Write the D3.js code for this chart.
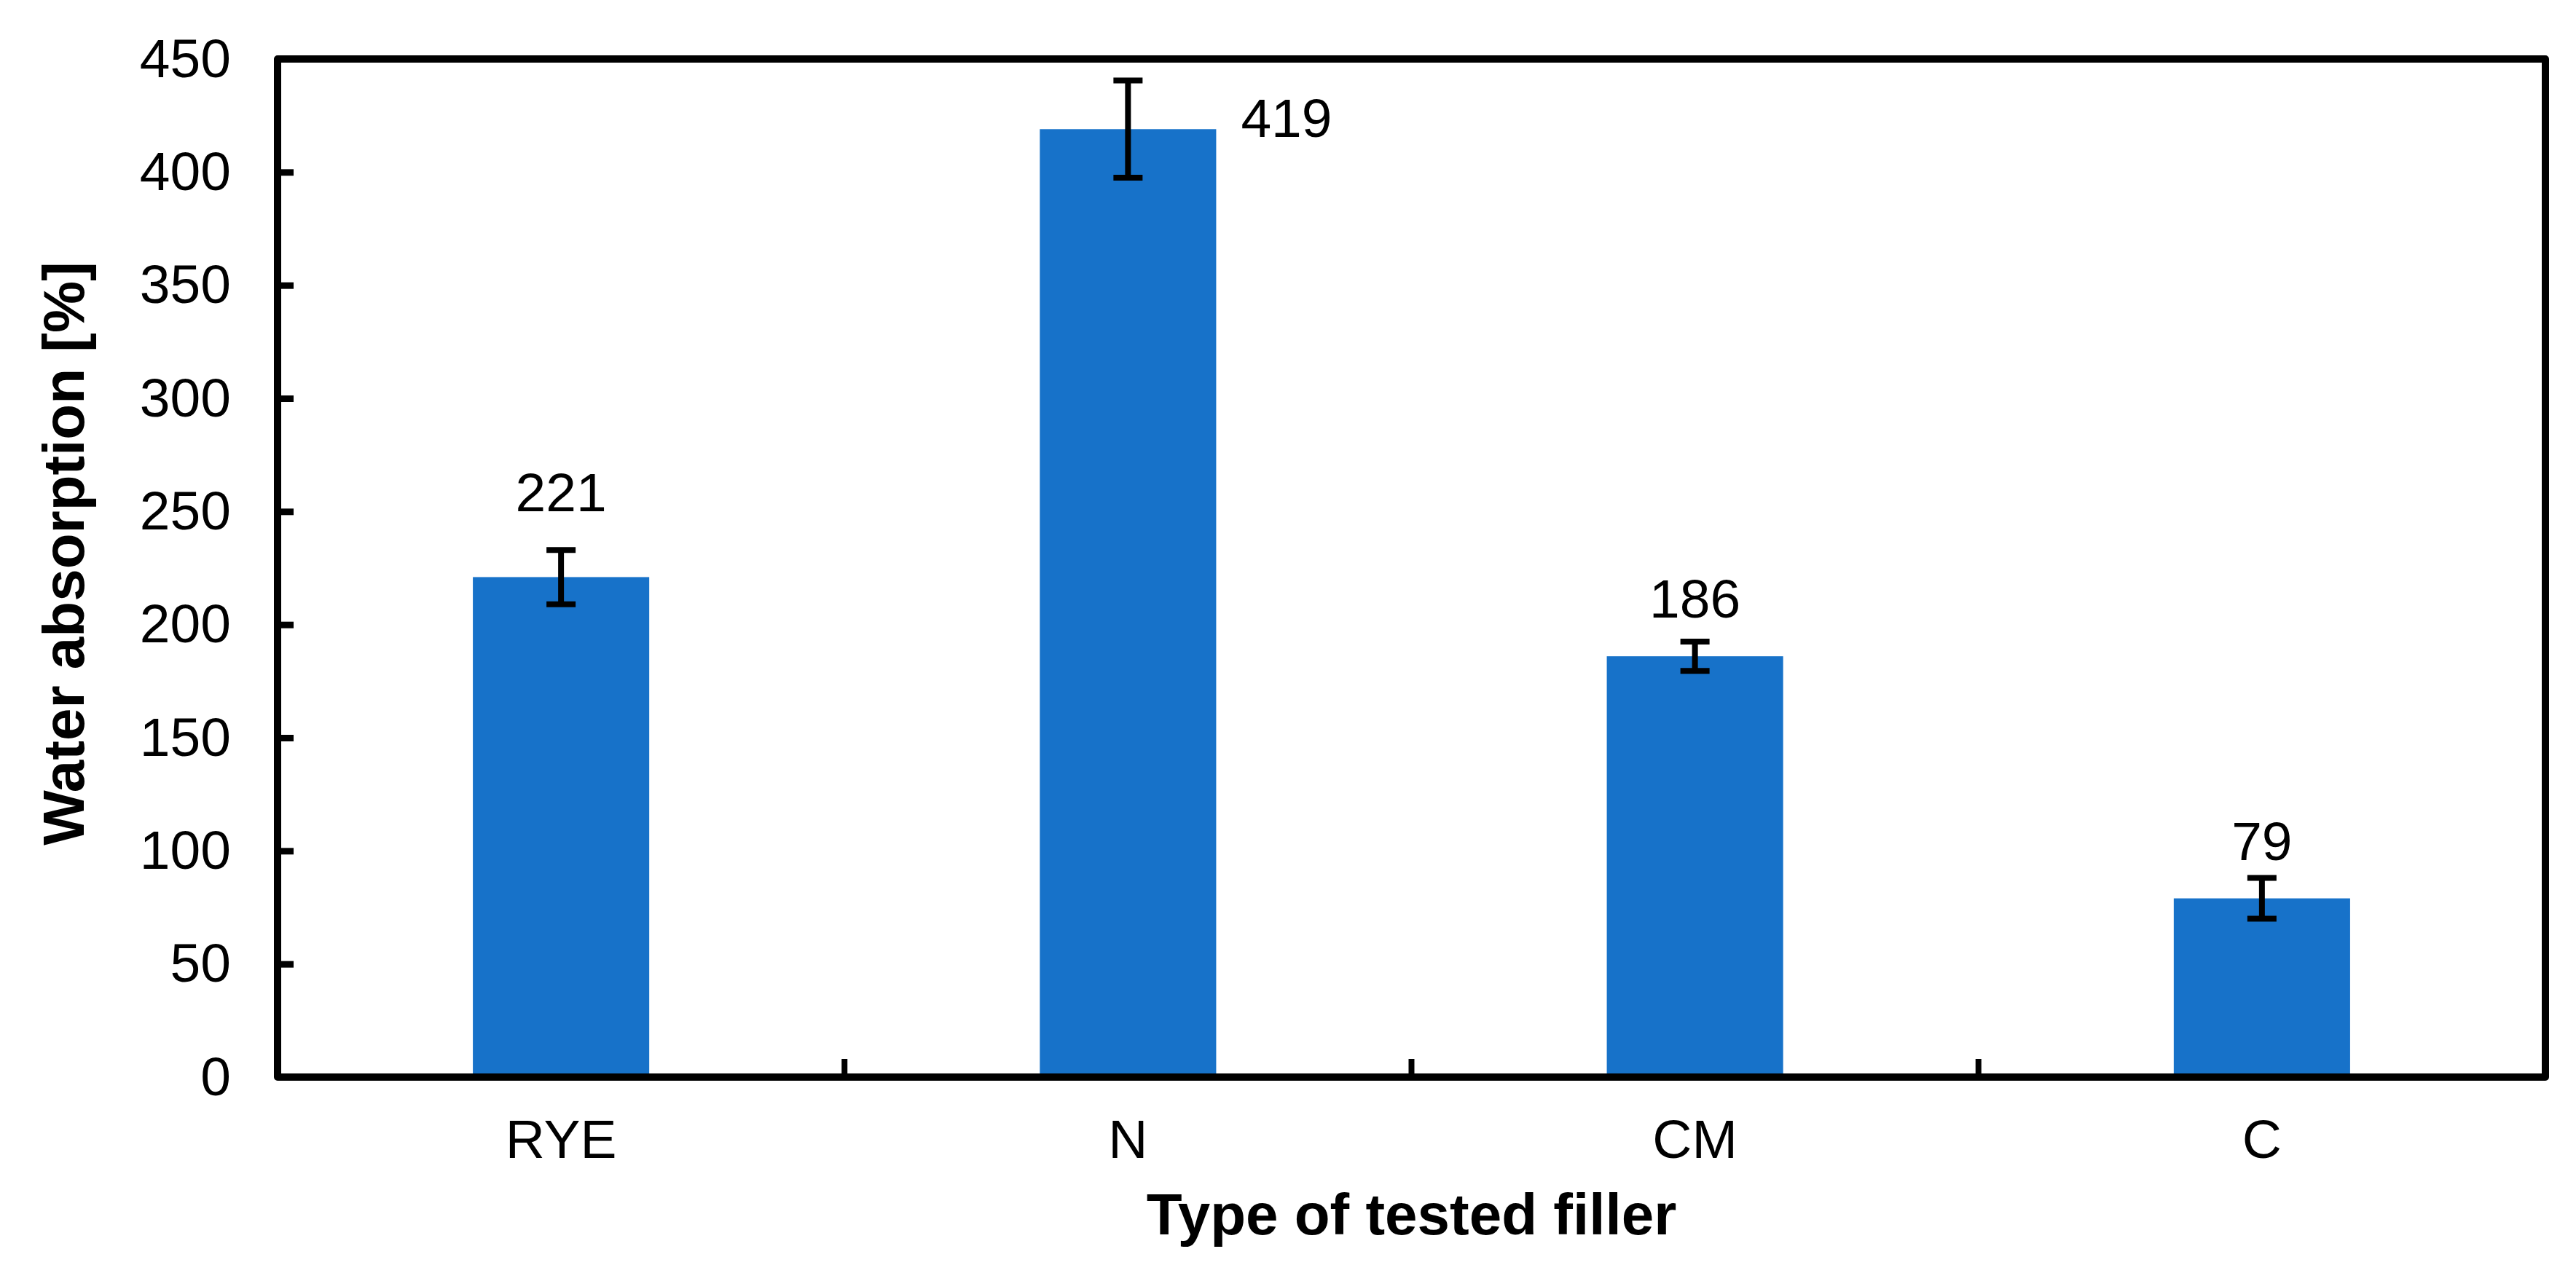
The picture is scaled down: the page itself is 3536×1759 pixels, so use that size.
<!DOCTYPE html>
<html>
<head>
<meta charset="utf-8">
<script src="https://cdn.jsdelivr.net/npm/d3@7"></script>
<style>
  html, body { margin: 0; padding: 0; background: #ffffff; }
  svg { display: block; }
  text { font-family: "Liberation Sans", Arial, Helvetica, sans-serif; fill: #000; }
</style>
</head>
<body>
<svg id="chart" width="3536" height="1759"></svg>
<script>
// ---- data ----
const categories = ["RYE", "N", "CM", "C"];
const values = [221, 419, 186, 79];
const errors = [12, 21.5, 6.5, 9];
const valueLabels = ["221", "419", "186", "79"];
const yTickValues = [0, 50, 100, 150, 200, 250, 300, 350, 400, 450];
const xTitle = "Type of tested filler";
const yTitle = "Water absorption [%]";

// ---- layout ----
const W = 3536, H = 1759;
const plot = { left: 381, right: 3494, top: 81, bottom: 1479 };
const barColor = "#1772C9";

const svg = d3.select("#chart");
svg.append("rect").attr("width", W).attr("height", H).attr("fill", "#fff");

const pad = 1 - 242 / 778;
const x = d3.scaleBand()
  .domain(categories)
  .range([plot.left, plot.right])
  .paddingInner(pad)
  .paddingOuter(pad / 2);

const y = d3.scaleLinear()
  .domain([0, 450])
  .range([plot.bottom, plot.top]);

const rows = categories.map((c, i) => ({ cat: c, v: values[i], e: errors[i], lab: valueLabels[i] }));

// bars
svg.append("g").selectAll("rect").data(rows).join("rect")
  .attr("x", d => x(d.cat))
  .attr("y", d => y(d.v))
  .attr("width", x.bandwidth())
  .attr("height", d => y(0) - y(d.v))
  .attr("fill", barColor);

// y axis (ticks inward, labels left)
const yAxis = d3.axisLeft(y).tickValues(yTickValues).tickSize(-22).tickPadding(64).tickFormat(d3.format("d"));
const gy = svg.append("g").attr("transform", `translate(${plot.left},0)`).call(yAxis);
gy.select(".domain").remove();
gy.selectAll(".tick line").attr("stroke", "#000").attr("stroke-width", 9);
gy.selectAll(".tick text").attr("font-size", 75).attr("fill", "#000")
  .style("font-family", '"Liberation Sans", Arial, sans-serif');

// x axis labels
const xAxis = d3.axisBottom(x).tickSize(0).tickPadding(58);
const gx = svg.append("g").attr("transform", `translate(0,${plot.bottom})`).call(xAxis);
gx.select(".domain").remove();
gx.selectAll(".tick text").attr("font-size", 75).attr("fill", "#000")
  .style("font-family", '"Liberation Sans", Arial, sans-serif');

// x ticks at category boundaries (inward)
const step = x.step();
svg.append("g").selectAll("line").data(categories.slice(1)).join("line")
  .attr("x1", d => x(d) - (step - x.bandwidth()) / 2)
  .attr("x2", d => x(d) - (step - x.bandwidth()) / 2)
  .attr("y1", plot.bottom)
  .attr("y2", plot.bottom - 25)
  .attr("stroke", "#000").attr("stroke-width", 8);

// error bars
const capHalf = 20;
const eg = svg.append("g").attr("stroke", "#000").attr("stroke-width", 8).attr("fill", "none");
rows.forEach(d => {
  const cx = x(d.cat) + x.bandwidth() / 2;
  const y1 = y(d.v + d.e), y2 = y(d.v - d.e);
  eg.append("line").attr("x1", cx).attr("x2", cx).attr("y1", y1).attr("y2", y2);
  eg.append("line").attr("x1", cx - capHalf).attr("x2", cx + capHalf).attr("y1", y1).attr("y2", y1);
  eg.append("line").attr("x1", cx - capHalf).attr("x2", cx + capHalf).attr("y1", y2).attr("y2", y2);
});

// frame
svg.append("rect")
  .attr("x", plot.left).attr("y", plot.top)
  .attr("width", plot.right - plot.left).attr("height", plot.bottom - plot.top)
  .attr("fill", "none").attr("stroke", "#000").attr("stroke-width", 10)
  .attr("stroke-linejoin", "round");

// value labels (default: above bar; some moved as in the original)
const labelNudge = { RYE: { dx: 0, dy: -90, anchor: "middle" },
                     N:   { dx: 155, dy: 11, anchor: "start" } };
svg.append("g").selectAll("text").data(rows).join("text")
  .attr("x", d => x(d.cat) + x.bandwidth() / 2 + (labelNudge[d.cat] ? labelNudge[d.cat].dx : 0))
  .attr("y", d => y(d.v) + (labelNudge[d.cat] ? labelNudge[d.cat].dy : -53))
  .attr("text-anchor", d => labelNudge[d.cat] ? labelNudge[d.cat].anchor : "middle")
  .attr("font-size", 75)
  .text(d => d.lab);

// axis titles
svg.append("text")
  .attr("x", (plot.left + plot.right) / 2)
  .attr("y", 1695)
  .attr("text-anchor", "middle")
  .attr("font-size", 80).attr("font-weight", "bold")
  .text(xTitle);

svg.append("text")
  .attr("transform", "translate(115,760) rotate(-90)")
  .attr("text-anchor", "middle")
  .attr("font-size", 80).attr("font-weight", "bold")
  .text(yTitle);
</script>
</body>
</html>
